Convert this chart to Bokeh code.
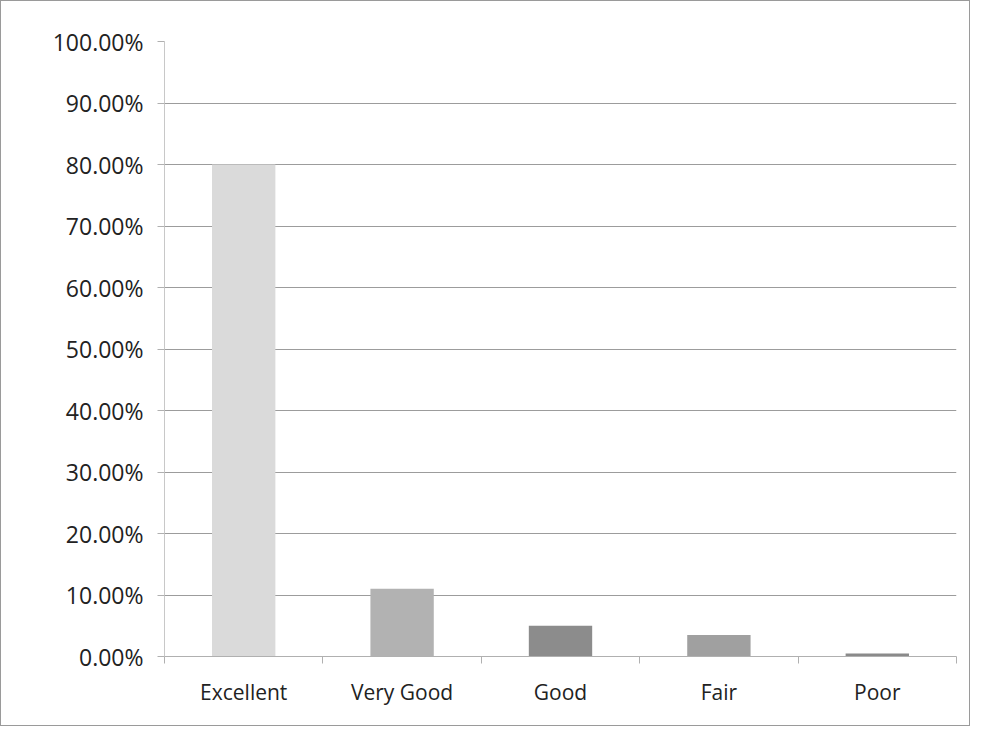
from bokeh.plotting import figure
from bokeh.models import FixedTicker, NumeralTickFormatter, Range1d, ColumnDataSource
from bokeh.embed import file_html
from bokeh.resources import INLINE

categories = ["Excellent", "Very Good", "Good", "Fair", "Poor"]
values = [0.80, 0.11, 0.05, 0.035, 0.005]
bar_colors = ["#dadada", "#b2b2b2", "#8c8c8c", "#a0a0a0", "#8a8a8a"]
y_ticks = [0.0, 0.1, 0.2, 0.3, 0.4, 0.5, 0.6, 0.7, 0.8, 0.9, 1.0]

xpos = [i + 0.5 for i in range(len(categories))]
src = ColumnDataSource(dict(x=xpos, top=values, color=bar_colors))

p = figure(width=970, height=726, output_backend="svg", toolbar_location=None,
           x_range=Range1d(0, len(categories)), y_range=Range1d(0, 1.0),
           min_border_left=163, min_border_right=15, min_border_top=40, min_border_bottom=71)
p.styles = {"border": "1px solid #9a9a9a"}
p.outline_line_color = None
p.background_fill_color = "white"
p.border_fill_color = "white"

p.vbar(x="x", top="top", bottom=0, width=0.4, color="color", source=src, line_color=None)

# x axis: labels centred, tick marks at category boundaries
p.xaxis.ticker = FixedTicker(ticks=xpos, minor_ticks=list(range(len(categories) + 1)))
p.xaxis.major_label_overrides = {x: c for x, c in zip(xpos, categories)}
p.xaxis.major_tick_line_color = None
p.xaxis.minor_tick_line_color = "#b0b0b0"
p.xaxis.minor_tick_out = 7
p.xaxis.minor_tick_in = 0
p.xaxis.axis_line_color = "#b0b0b0"
p.xaxis.major_label_text_font = "Open Sans"
p.xaxis.major_label_text_font_size = "21px"
p.xaxis.major_label_text_color = "#222222"
p.xaxis.major_label_standoff = 14

p.yaxis.ticker = FixedTicker(ticks=y_ticks)
p.yaxis.formatter = NumeralTickFormatter(format="0.00%")
p.yaxis.axis_line_color = "#c8c8c8"
p.yaxis.major_tick_line_color = "#b0b0b0"
p.yaxis.major_tick_out = 7
p.yaxis.major_tick_in = 0
p.yaxis.minor_tick_line_color = None
p.yaxis.major_label_text_font = "Open Sans"
p.yaxis.major_label_text_font_size = "23px"
p.yaxis.major_label_text_color = "#222222"
p.yaxis.major_label_standoff = 14

p.xgrid.grid_line_color = None
p.ygrid.ticker = FixedTicker(ticks=y_ticks)
p.ygrid.grid_line_color = "#9c9c9c"
p.ygrid.grid_line_width = 1

open("out.html", "w").write(file_html(p, INLINE))
